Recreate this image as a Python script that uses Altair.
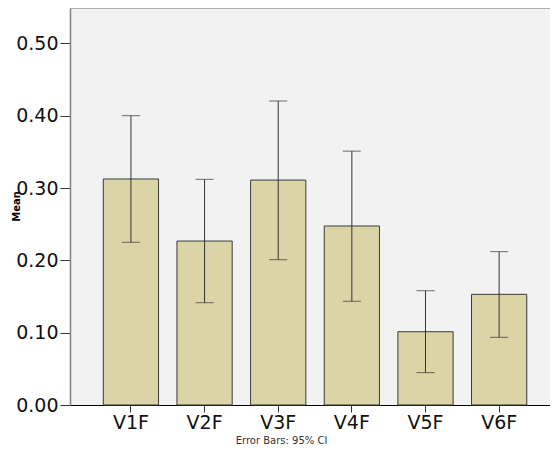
import altair as alt
import pandas as pd

categories = ["V1F", "V2F", "V3F", "V4F", "V5F", "V6F"]
means = [0.3125, 0.2267, 0.311, 0.2475, 0.1013, 0.153]
ci_low = [0.225, 0.1414, 0.2009, 0.1434, 0.0447, 0.0936]
ci_high = [0.400, 0.312, 0.4203, 0.351, 0.158, 0.212]
y_ticks = [0.0, 0.1, 0.2, 0.3, 0.4, 0.5]

df = pd.DataFrame({"cat": categories, "mean": means, "lo": ci_low, "hi": ci_high})

FONT = "DejaVu Sans"

x_enc = alt.X(
    "cat:N",
    sort=categories,
    scale=alt.Scale(paddingInner=0.25, paddingOuter=0.384, align=0.589),
    axis=alt.Axis(
        title="Error Bars: 95% CI",
        titleFont=FONT,
        titleFontSize=10,
        titleFontWeight="normal",
        titleColor="#333333",
        titleX=211,
        titleY=38,
        titleBaseline="alphabetic",
        labelAngle=0,
        labelFont=FONT,
        labelFontSize=19,
        labelColor="#111111",
        labelPadding=1,
        tickSize=7,
        tickColor="#333333",
        domainColor="#000000",
        domainWidth=1,
        grid=False,
    ),
)

y_scale = alt.Scale(domain=[0, 0.5489], nice=False, zero=True)
y_enc = alt.Y(
    "mean:Q",
    scale=y_scale,
    axis=alt.Axis(
        title="Mean",
        titleFont=FONT,
        titleFontSize=10,
        titleFontWeight="bold",
        titleColor="#000000",
        titleX=-51,
        titleY=198,
        titleBaseline="alphabetic",
        values=y_ticks,
        format=".2f",
        labelFont=FONT,
        labelFontSize=19,
        labelColor="#111111",
        labelPadding=2,
        tickSize=10,
        tickColor="#333333",
        domainColor="#808080",
        domainWidth=1.5,
        grid=False,
    ),
)

base = alt.Chart(df)

bars = base.mark_bar(fill="#dad4a6", stroke="#3a3a3a", strokeWidth=1).encode(
    x=x_enc, y=y_enc
)

err = base.mark_rule(color="#333333", strokeWidth=1).encode(
    x=alt.X("cat:N", sort=categories),
    y=alt.Y("lo:Q", scale=y_scale),
    y2="hi:Q",
)

cap_lo = base.mark_tick(color="#333333", thickness=1, size=18).encode(
    x=alt.X("cat:N", sort=categories),
    y=alt.Y("lo:Q", scale=y_scale),
)
cap_hi = base.mark_tick(color="#333333", thickness=1, size=18).encode(
    x=alt.X("cat:N", sort=categories),
    y=alt.Y("hi:Q", scale=y_scale),
)

top_border = alt.Chart(pd.DataFrame({"k": [0]})).mark_rule(
    color="#999999", strokeWidth=1.5
).encode(y=alt.value(0))

chart = (
    alt.layer(bars, err, cap_lo, cap_hi, top_border)
    .properties(
        width=480,
        height=397,
        autosize=alt.AutoSizeParams(type="none"),
        padding={"left": 62, "top": 0, "right": 0, "bottom": 41},
        background="#ffffff",
    )
    .configure_view(fill="#f2f2f2", strokeWidth=0)
)

chart.save("out.html", embed_options={"renderer": "svg", "actions": False})
